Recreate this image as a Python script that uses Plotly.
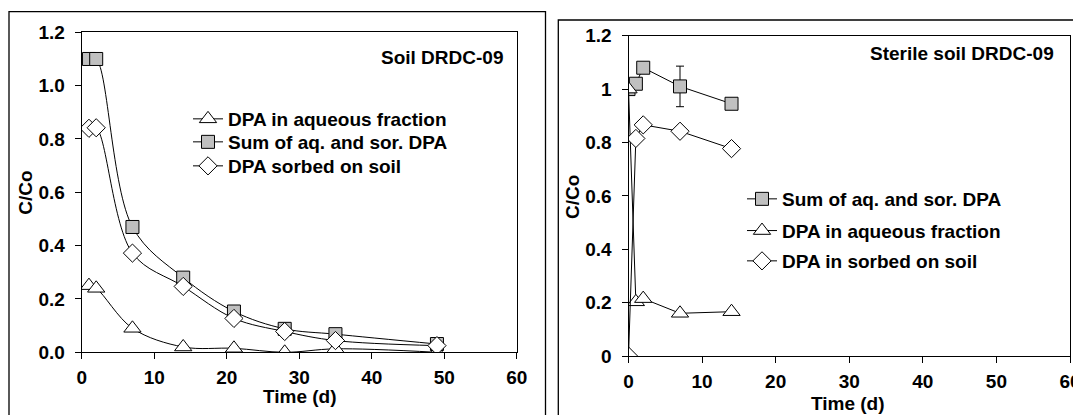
import plotly.graph_objects as go

W, H = 1073, 415

# ---- Data: left panel (Soil DRDC-09) ----
left_aq_t = [1, 2, 7, 14, 21, 28, 35, 49]
left_aq_c = [0.25, 0.24, 0.09, 0.02, 0.015, 0.0, 0.013, 0.0]
left_sum_t = [1, 2, 7, 14, 21, 28, 35, 49]
left_sum_c = [1.10, 1.10, 0.47, 0.28, 0.153, 0.088, 0.068, 0.031]
left_sor_t = [1, 2, 7, 14, 21, 28, 35, 49]
left_sor_c = [0.84, 0.842, 0.372, 0.247, 0.127, 0.078, 0.044, 0.025]

# ---- Data: right panel (Sterile soil DRDC-09) ----
right_sum_t = [0, 1, 2, 7, 14]
right_sum_c = [1.0, 1.02, 1.08, 1.01, 0.945]
right_sum_err = [0, 0, 0, 0.076, 0]
right_aq_t = [0, 1, 2, 7, 14]
right_aq_c = [1.0, 0.203, 0.215, 0.16, 0.166]
right_sor_t = [0, 1, 2, 7, 14]
right_sor_c = [0.0, 0.815, 0.866, 0.842, 0.777]

x_ticks = [0, 10, 20, 30, 40, 50, 60]

FONT = "Liberation Sans, Arial, sans-serif"
GRAY = "#c0c0c0"
FS = 19

def px_x(p):
    return p / W

def px_y(p):
    return 1 - p / H

fig = go.Figure()

mk = dict(line=dict(color="black", width=1))

# Left panel traces
fig.add_trace(go.Scatter(x=left_aq_t, y=left_aq_c, mode="lines+markers",
    name="DPA in aqueous fraction", xaxis="x", yaxis="y", legend="legend",
    line=dict(color="black", width=1, shape="spline", smoothing=1.0),
    marker=dict(symbol="triangle-up", size=15, color="white", **mk)))
fig.add_trace(go.Scatter(x=left_sum_t, y=left_sum_c, mode="lines+markers",
    name="Sum of aq. and sor. DPA", xaxis="x", yaxis="y", legend="legend3",
    line=dict(color="black", width=1, shape="spline", smoothing=1.0),
    marker=dict(symbol="square", size=13, color=GRAY, **mk)))
fig.add_trace(go.Scatter(x=left_sor_t, y=left_sor_c, mode="lines+markers",
    name="DPA sorbed on soil", xaxis="x", yaxis="y", legend="legend4",
    line=dict(color="black", width=1, shape="spline", smoothing=1.0),
    marker=dict(symbol="diamond", size=14, color="white", **mk)))

# Right panel traces
fig.add_trace(go.Scatter(x=right_sum_t, y=right_sum_c, mode="lines+markers",
    name="Sum of aq. and sor. DPA", xaxis="x2", yaxis="y2", legend="legend2",
    line=dict(color="black", width=1),
    error_y=dict(type="data", array=right_sum_err, color="black", thickness=1, width=4),
    marker=dict(symbol="square", size=13, color=GRAY, **mk)))
fig.add_trace(go.Scatter(x=right_aq_t, y=right_aq_c, mode="lines+markers",
    name="DPA in aqueous fraction", xaxis="x2", yaxis="y2", legend="legend5",
    line=dict(color="black", width=1),
    marker=dict(symbol="triangle-up", size=15, color="white", **mk)))
fig.add_trace(go.Scatter(x=right_sor_t, y=right_sor_c, mode="lines+markers",
    name="DPA in sorbed on soil", xaxis="x2", yaxis="y2", legend="legend6",
    line=dict(color="black", width=1),
    marker=dict(symbol="diamond", size=14, color="white", **mk)))

tickfont = dict(family=FONT, size=FS, color="black", weight="bold")
titlefont = dict(family=FONT, size=FS, color="black", weight="bold")
axis_common = dict(showline=True, linecolor="black", linewidth=1, mirror=True,
                   ticks="outside", ticklen=6, tickcolor="black", tickwidth=1,
                   showgrid=False, zeroline=False, tickfont=tickfont,
                   automargin=False, ticklabeloverflow="allow")

def leg(xp, yp):
    return dict(x=px_x(xp), y=px_y(yp), xanchor="left", yanchor="middle",
                bgcolor="rgba(0,0,0,0)", borderwidth=0,
                font=dict(family=FONT, size=FS, color="black", weight="bold"))

fig.update_layout(
    width=W, height=H,
    margin=dict(l=0, r=0, t=0, b=0, autoexpand=False),
    paper_bgcolor="white", plot_bgcolor="white",
    font=dict(family=FONT, size=FS, color="black", weight="bold"),
    xaxis=dict(domain=[px_x(81.7), px_x(516.7)], range=[0, 60], tickvals=x_ticks,
               anchor="y", ticklabelstandoff=2, **axis_common),
    yaxis=dict(domain=[px_y(352.3), px_y(32.3)], range=[0, 1.2], dtick=0.2,
               tickformat=".1f", anchor="x", ticklabelstandoff=6, **axis_common),
    xaxis2=dict(domain=[px_x(628.5), px_x(1070)], range=[0, 60], tickvals=x_ticks,
                anchor="y2", ticklabelstandoff=2, **axis_common),
    yaxis2=dict(domain=[px_y(356), px_y(35.7)], range=[0, 1.2], dtick=0.2,
                anchor="x2", ticklabelstandoff=6, **axis_common),
    legend=leg(188, 119),
    legend3=leg(188, 142),
    legend4=leg(188, 166),
    legend2=leg(742, 199),
    legend5=leg(742, 230.7),
    legend6=leg(742, 261),
    showlegend=True,
)

# Axis titles
fig.add_annotation(text="Time (d)", xref="paper", yref="paper",
                   x=px_x(299.6), y=px_y(396), xanchor="center", yanchor="middle",
                   showarrow=False, font=titlefont)
fig.add_annotation(text="C/Co", xref="paper", yref="paper", textangle=-90,
                   x=px_x(25.8), y=px_y(193), xanchor="center", yanchor="middle",
                   showarrow=False, font=titlefont)
fig.add_annotation(text="Time (d)", xref="paper", yref="paper",
                   x=px_x(848), y=px_y(403), xanchor="center", yanchor="middle",
                   showarrow=False, font=titlefont)
fig.add_annotation(text="C/Co", xref="paper", yref="paper", textangle=-90,
                   x=px_x(572.3), y=px_y(196.7), xanchor="center", yanchor="middle",
                   showarrow=False, font=titlefont)

# Panel titles
fig.add_annotation(text="Soil DRDC-09", xref="paper", yref="paper",
                   x=px_x(505), y=px_y(57.3), xanchor="right", yanchor="middle",
                   showarrow=False, font=titlefont)
fig.add_annotation(text="Sterile soil DRDC-09", xref="paper", yref="paper",
                   x=px_x(1056), y=px_y(53.3), xanchor="right", yanchor="middle",
                   showarrow=False, font=titlefont)

# Outer chart frames
fig.add_shape(type="rect", xref="paper", yref="paper",
              x0=px_x(9), x1=px_x(545.5), y0=px_y(430), y1=px_y(11.7),
              line=dict(color="black", width=1.3), layer="below")
fig.add_shape(type="rect", xref="paper", yref="paper",
              x0=px_x(558.3), x1=px_x(1090), y0=px_y(430), y1=px_y(20),
              line=dict(color="black", width=1.3), layer="below")

fig.write_html("out.html", config={"displayModeBar": False},
               post_script="document.body.style.margin='0';document.body.style.overflow='hidden';")
